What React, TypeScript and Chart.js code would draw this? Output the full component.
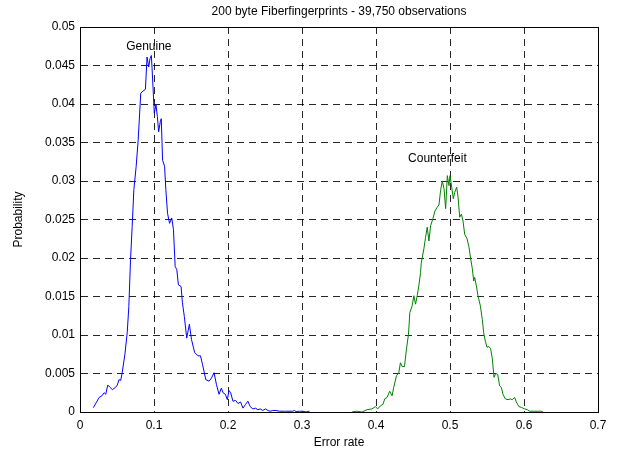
import React, { useEffect, useRef } from "react";
import { Chart, registerables } from "chart.js";

Chart.register(...registerables);

const TITLE = "200 byte Fiberfingerprints - 39,750 observations";
const X_LABEL = "Error rate";
const Y_LABEL = "Probability";
const GENUINE_LABEL = "Genuine";
const COUNTERFEIT_LABEL = "Counterfeit";

const genuineX = [
  0.018, 0.026, 0.0295, 0.0326, 0.0348, 0.0375, 0.0406, 0.0438, 0.048, 0.0504,
  0.0527, 0.055, 0.057, 0.0607, 0.0638, 0.066, 0.0683, 0.0705, 0.0728, 0.0759,
  0.0786, 0.0821, 0.0853, 0.0884, 0.0906, 0.0929, 0.0946, 0.0964, 0.0973, 0.1004,
  0.1027, 0.1045, 0.1063, 0.1085, 0.1098, 0.1116, 0.1143, 0.116, 0.1183, 0.121,
  0.124, 0.1263, 0.1286, 0.1308, 0.133, 0.1366, 0.1384, 0.141, 0.1442, 0.1478,
  0.1507, 0.155, 0.1596, 0.1628, 0.1655, 0.17, 0.1744, 0.1776, 0.1812, 0.1843,
  0.1879, 0.191, 0.1933, 0.1964, 0.1991, 0.2013, 0.2036, 0.2067, 0.2103, 0.2135,
  0.217, 0.2202, 0.2238, 0.2269, 0.23, 0.2336, 0.2372, 0.2404, 0.2435, 0.247,
  0.2507, 0.2538, 0.257, 0.2605, 0.265, 0.2695, 0.2762, 0.278, 0.2874, 0.2897,
  0.292, 0.2964, 0.301, 0.3054, 0.31,
];
const genuineY = [
  0.00056, 0.0019, 0.0021, 0.0025, 0.0023, 0.0035, 0.0032, 0.0029, 0.0032, 0.0035,
  0.0042, 0.0041, 0.0051, 0.0075, 0.0103, 0.0137, 0.0198, 0.0241, 0.0289, 0.0319,
  0.0353, 0.0414, 0.0417, 0.0419, 0.0461, 0.0448, 0.0459, 0.0463, 0.0448, 0.0388,
  0.0399, 0.0384, 0.0364, 0.0377, 0.0381, 0.0327, 0.0319, 0.0289, 0.0258, 0.0245,
  0.0252, 0.0237, 0.0189, 0.0185, 0.0165, 0.0163, 0.0142, 0.0124, 0.0096, 0.0114,
  0.0094, 0.0077, 0.0073, 0.0073, 0.0062, 0.0042, 0.004, 0.0044, 0.0051, 0.0036,
  0.0023, 0.0031, 0.0025, 0.0023, 0.0016, 0.0028, 0.0025, 0.0014, 0.0015, 0.0011,
  0.0013, 0.0005, 0.001, 0.0014, 0.0007, 0.0004, 0.0005, 0.0003, 0.0004, 0.0002,
  0.0004, 0.0002, 0.0001, 0.0002, 0.0002, 0.0001, 0.0001, 0.0001, 0.0001, 0.0002,
  0.00005, 0.0001, 0.0001, 0.0, 0.0001,
];

const counterfeitX = [
  0.3674, 0.374, 0.381, 0.3878, 0.3946, 0.399, 0.4023, 0.406, 0.4095, 0.4118,
  0.415, 0.4186, 0.4217, 0.424, 0.4276, 0.4308, 0.433, 0.4353, 0.4385, 0.4412,
  0.4439, 0.4457, 0.4489, 0.4511, 0.4534, 0.4557, 0.4579, 0.4602, 0.4611, 0.4647,
  0.467, 0.4692, 0.4715, 0.4738, 0.4769, 0.4796, 0.4828, 0.4851, 0.4873, 0.4896,
  0.4919, 0.4941, 0.4964, 0.4986, 0.5, 0.5023, 0.5045, 0.5063, 0.509, 0.5109,
  0.5131, 0.5154, 0.5176, 0.5198, 0.523, 0.5257, 0.5279, 0.5302, 0.532, 0.5333,
  0.5356, 0.5378, 0.541, 0.5437, 0.5455, 0.5477, 0.55, 0.5527, 0.555, 0.5572,
  0.5595, 0.5617, 0.5644, 0.5671, 0.5694, 0.5716, 0.5748, 0.5784, 0.5815, 0.5842,
  0.5874, 0.5896, 0.5932, 0.5964, 0.6009, 0.6045, 0.6077, 0.6122, 0.6176, 0.6234,
  0.6257,
];
const counterfeitY = [
  0.0, 0.0001, 0.0, 0.0003, 0.0004, 0.0007, 0.0004, 0.0008, 0.001, 0.0017,
  0.0019, 0.0027, 0.0021, 0.0032, 0.0047, 0.0051, 0.0064, 0.0059, 0.0059, 0.0082,
  0.0101, 0.0129, 0.0138, 0.0151, 0.014, 0.0151, 0.0164, 0.0181, 0.0193, 0.0212,
  0.0227, 0.024, 0.0222, 0.0242, 0.0251, 0.0261, 0.0266, 0.0269, 0.0288, 0.03,
  0.029, 0.0264, 0.0307, 0.0294, 0.0307, 0.0292, 0.0277, 0.0285, 0.0292, 0.0279,
  0.0253, 0.0257, 0.0248, 0.0231, 0.0225, 0.0214, 0.0199, 0.0186, 0.017, 0.0175,
  0.0164, 0.0151, 0.0138, 0.012, 0.0103, 0.0092, 0.0084, 0.0085, 0.0082, 0.0069,
  0.0045, 0.005, 0.0049, 0.0034, 0.0032, 0.0023, 0.0017, 0.0016, 0.0017, 0.0016,
  0.0019, 0.0013, 0.0007, 0.0006, 0.0004, 0.0003, 0.0001, 0.0001, 0.0001, 0.0001,
  0.0,
];

const X_TICKS = [0, 0.1, 0.2, 0.3, 0.4, 0.5, 0.6, 0.7];
const Y_TICKS = [0, 0.005, 0.01, 0.015, 0.02, 0.025, 0.03, 0.035, 0.04, 0.045, 0.05];

const FONT = "'Liberation Sans', Arial, sans-serif";

const textPlugin = {
  id: "annotText",
  afterDraw(chart: any) {
    const { ctx, chartArea, scales } = chart;
    ctx.save();
    ctx.strokeStyle = "#000";
    ctx.lineWidth = 1;
    ctx.setLineDash([]);
    ctx.strokeRect(
      Math.round(chartArea.left) + 0.5,
      Math.round(chartArea.top) + 0.5,
      Math.round(chartArea.right - chartArea.left),
      Math.round(chartArea.bottom - chartArea.top)
    );
    ctx.fillStyle = "#000";
    ctx.font = `12px ${FONT}`;
    ctx.textAlign = "center";
    ctx.textBaseline = "middle";
    ctx.fillText(TITLE, (chartArea.left + chartArea.right) / 2, 12);
    ctx.fillText(GENUINE_LABEL, scales.x.getPixelForValue(0.093), scales.y.getPixelForValue(0.0475));
    ctx.fillText(COUNTERFEIT_LABEL, scales.x.getPixelForValue(0.483), scales.y.getPixelForValue(0.0329));
    ctx.restore();
  },
};

export default function App() {
  const ref = useRef<HTMLCanvasElement | null>(null);
  useEffect(() => {
    if (!ref.current) return;
    const toPts = (xs: number[], ys: number[]) => xs.map((x, i) => ({ x, y: ys[i] }));
    const chart = new Chart(ref.current, {
      type: "line",
      data: {
        datasets: [
          {
            label: GENUINE_LABEL,
            data: toPts(genuineX, genuineY),
            borderColor: "#0000ff",
            borderWidth: 1,
            pointRadius: 0,
            tension: 0,
            fill: false,
          },
          {
            label: COUNTERFEIT_LABEL,
            data: toPts(counterfeitX, counterfeitY),
            borderColor: "#008000",
            borderWidth: 1,
            pointRadius: 0,
            tension: 0,
            fill: false,
          },
        ],
      },
      plugins: [textPlugin],
      options: {
        animation: false,
        responsive: false,
        maintainAspectRatio: false,
        devicePixelRatio: 1,
        layout: { padding: { top: 27, right: 25, left: 0, bottom: 0 } },
        plugins: {
          legend: { display: false },
          title: { display: false },
          tooltip: { enabled: false },
        },
        scales: {
          x: {
            type: "linear",
            min: 0,
            max: 0.7,
            afterFit: (s: any) => {
              s.height = 43;
            },
            afterBuildTicks: (s: any) => {
              s.ticks = X_TICKS.map((v) => ({ value: v }));
            },
            ticks: {
              color: "#000",
              font: { family: FONT, size: 12 },
              padding: 6,
              maxRotation: 0,
              callback: (v: any) => String(+Number(v).toFixed(3)),
            },
            grid: { color: "rgba(0,0,0,0.85)", lineWidth: 1, drawTicks: false },
            border: { display: true, color: "#000", width: 1, dash: [7, 5] },
            title: {
              display: true,
              text: X_LABEL,
              color: "#000",
              font: { family: FONT, size: 12 },
              padding: { top: 0, bottom: 5 },
            },
          },
          y: {
            type: "linear",
            min: 0,
            max: 0.05,
            afterFit: (s: any) => {
              s.width = 80;
            },
            afterBuildTicks: (s: any) => {
              s.ticks = Y_TICKS.map((v) => ({ value: v }));
            },
            ticks: {
              color: "#000",
              font: { family: FONT, size: 12 },
              padding: 5,
              callback: (v: any) => String(+Number(v).toFixed(3)),
            },
            grid: { color: "rgba(0,0,0,0.85)", lineWidth: 1, drawTicks: false },
            border: { display: true, color: "#000", width: 1, dash: [7, 5] },
            title: {
              display: true,
              text: Y_LABEL,
              color: "#000",
              font: { family: FONT, size: 12 },
              padding: { top: 11, bottom: 0 },
            },
          },
        },
      },
    } as any);
    return () => chart.destroy();
  }, []);
  return (
    <div style={{ position: "absolute", left: 0, top: 0, width: 623, height: 455, background: "#fff" }}>
      <canvas ref={ref} width={623} height={455} style={{ width: 623, height: 455, display: "block" }} />
    </div>
  );
}
